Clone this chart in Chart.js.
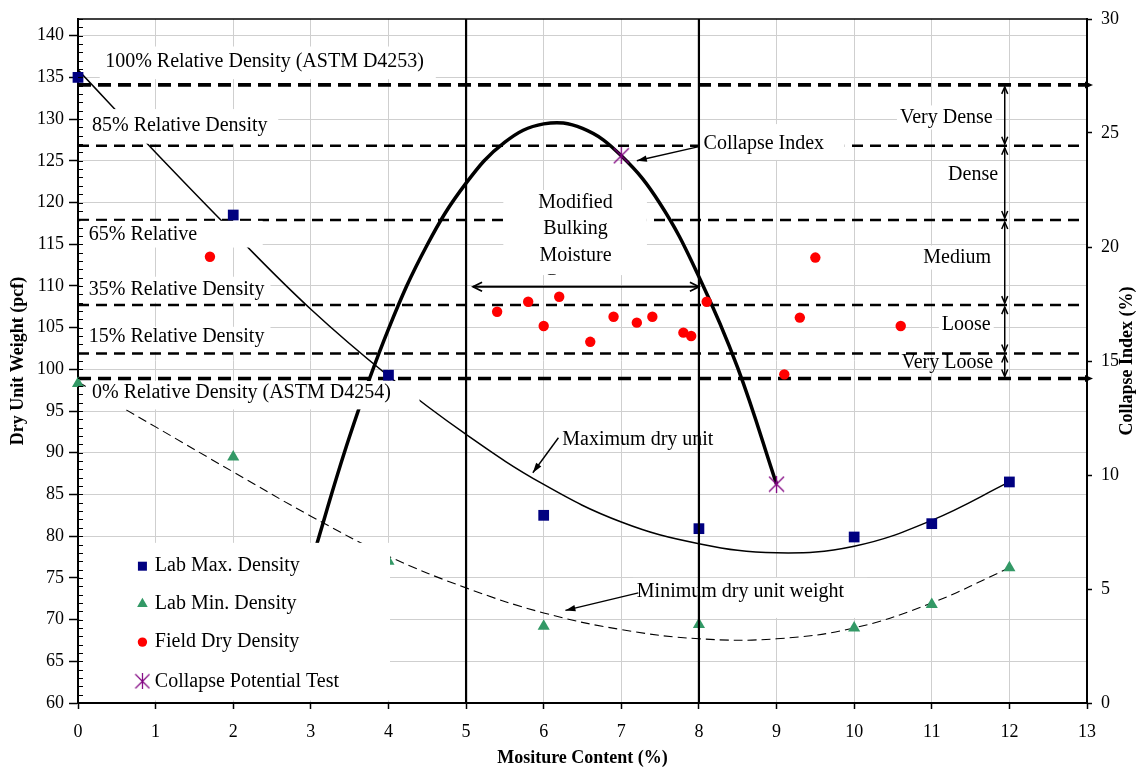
<!DOCTYPE html>
<html>
<head>
<meta charset="utf-8">
<script src="https://cdn.jsdelivr.net/npm/chart.js@4.4.1/dist/chart.umd.min.js"></script>
<style>
  html, body { margin: 0; padding: 0; background: #fff; }
  #wrap { width: 1137px; height: 767px; }
</style>
</head>
<body>
<div id="wrap"><canvas id="chart" width="1137" height="767"></canvas></div>
<script>
// lab compaction tests
const labMoisture = [0, 2, 4, 6, 8, 10, 11, 12];
const labMaxDensity = [135.0, 118.5, 99.3, 82.5, 80.9, 79.9, 81.5, 86.5];
const labMinDensity = [98.3, 89.5, 77.0, 69.2, 69.4, 69.0, 71.8, 76.2];

// field dry density measurements
const fieldMoisture = [1.7, 5.4, 5.8, 6.0, 6.2, 6.6, 6.9, 7.2, 7.4, 7.8, 7.9, 8.1, 9.1, 9.3, 9.5, 10.6];
const fieldDensity = [113.5, 106.9, 108.1, 105.2, 108.7, 103.3, 106.3, 105.6, 106.3, 104.4, 104.0, 108.1, 99.4, 106.2, 113.4, 105.2];

// collapse potential tests (right axis, %)
const collapseMoisture = [7, 9];
const collapseIndex = [24.0, 9.6];

// trend curves
const curveMoisture = [0, 1, 2, 3, 4, 5, 6, 7, 8, 9, 10, 11, 12];
const maxCurve = [135.9, 126.0, 116.4, 107.2, 99.2, 92.2, 86.2, 81.7, 79.1, 78.0, 78.8, 81.9, 86.5];
const minCurve = [98.5, 93.1, 87.7, 82.4, 77.6, 73.8, 70.8, 68.8, 67.7, 67.7, 69.0, 72.0, 76.2];
const collapseCurveMoisture = [3.0, 3.5, 4.0, 4.5, 5.0, 5.5, 6.0, 6.5, 7.0, 7.5, 8.0, 8.5, 9.0];
const collapseCurve = [6.1, 11.7, 16.4, 20.1, 22.8, 24.6, 25.4, 25.2, 24.0, 21.9, 18.7, 14.7, 9.6];

// relative density levels (pcf)
const densityLabels = [
  "100% Relative Density (ASTM D4253)",
  "85% Relative Density",
  "65% Relative",
  "35% Relative Density",
  "15% Relative Density",
  "0% Relative Density (ASTM D4254)",
];
const densityLevels = [134.1, 126.8, 117.9, 107.7, 101.9, 98.9];
const consistencyClasses = ["Very Dense", "Dense", "Medium", "Loose", "Very Loose"];

// modified bulking moisture range
const bulkingLimits = [5, 8];

const xTicks = { min: 0, max: 13, step: 1 };
const yTicks = { min: 60, max: 142, step: 5 };
const y2Ticks = { min: 0, max: 30, step: 5 };

const FONT = "'Liberation Serif', 'Times New Roman', Times, serif";
const INK = "#000";
const GRID = "#cfcfcf";

// text placement in data units: [moisture, dry unit weight]
const noteLayout = [
  { text: densityLabels[0], at: [0.35, 136.9], box: [0.28, 138.7, 4.61, 134.8] },
  { text: densityLabels[1], at: [0.18, 129.2], box: [0.03, 131.2, 2.58, 127.05] },
  { text: densityLabels[2], at: [0.14, 116.1], box: [0.03, 117.8, 2.38, 114.6] },
  { text: densityLabels[3], at: [0.14, 109.5], box: [0.03, 111.1, 2.48, 108.0] },
  { text: densityLabels[4], at: [0.14, 103.9], box: [0.03, 105.1, 2.48, 102.1] },
  { text: densityLabels[5], at: [0.18, 97.2], box: [0.1, 98.6, 4.4, 95.2] },
  { text: "Collapse Index", at: [8.06, 127.1], box: [8.0, 129.4, 9.88, 125.1] },
  { text: "Maximum dry unit", at: [6.24, 91.6] },
  { text: "Minimum dry unit weight", at: [7.2, 73.3], box: [7.15, 75.0, 10.17, 70.2] },
  { text: consistencyClasses[0], at: [10.59, 130.2], pad: true },
  { text: consistencyClasses[1], at: [11.21, 123.3], pad: true },
  { text: consistencyClasses[2], at: [10.89, 113.4], pad: true },
  { text: consistencyClasses[3], at: [11.13, 105.3], pad: true },
  { text: consistencyClasses[4], at: [10.61, 100.8] },
];

const bulkingNote = {
  lines: ["Modified", "Bulking", "Moisture", "Content"],
  center: 6.41, top: 120.0, step: 3.2,
  box: [5.48, 121.5, 7.33, 111.3],
};

const pointers = [
  { from: [8.0, 126.7], to: [7.2, 125.0] },
  { from: [6.19, 91.8], to: [5.86, 87.6] },
  { from: [7.22, 73.2], to: [6.28, 71.1] },
];
const bulkingArrow = { y: 109.9, from: 5.09, to: 8.0 };
const classArrowX = 11.94;

const legendLayout = { box: [0.03, 79.2, 4.02, 60.3], marker: 0.83, text: 0.99, rows: [76.4, 71.9, 67.3, 62.6] };

const pts = (xs, ys) => xs.map((x, i) => ({ x, y: ys[i] }));

function asteriskMarker(size, color) {
  const c = document.createElement("canvas");
  c.width = size;
  c.height = size;
  const g = c.getContext("2d");
  g.strokeStyle = color;
  g.lineWidth = 1.3;
  g.beginPath();
  g.moveTo(1, 1); g.lineTo(size - 1, size - 1);
  g.moveTo(size - 1, 1); g.lineTo(1, size - 1);
  g.moveTo(size / 2, 0); g.lineTo(size / 2, size);
  g.stroke();
  return c;
}
const asterisk = asteriskMarker(17, "#800080");

const datasets = [
  ...bulkingLimits.map((m) => ({
    label: "limit",
    data: [{ x: m, y: yTicks.min }, { x: m, y: yTicks.max }],
    borderColor: INK, borderWidth: 2.2, pointRadius: 0, order: -1, onTop: true,
  })),
  {
    label: "Lab Max. Density", data: pts(labMoisture, labMaxDensity), showLine: false, clip: false,
    pointStyle: "rect", pointRadius: 7.6, backgroundColor: "#000080", borderColor: "#000080", borderWidth: 0,
    order: 0, inLegend: true, marker: "rect",
  },
  {
    label: "Lab Min. Density", data: pts(labMoisture, labMinDensity), showLine: false, clip: false,
    pointStyle: "triangle", pointRadius: 7, backgroundColor: "#339966", borderColor: "#339966", borderWidth: 0,
    order: 0, inLegend: true, marker: "triangle",
  },
  {
    label: "Field Dry Density", data: pts(fieldMoisture, fieldDensity), showLine: false, clip: false,
    pointStyle: "circle", pointRadius: 5.2, backgroundColor: "#ff0000", borderColor: "#ff0000", borderWidth: 0,
    order: 0, inLegend: true, marker: "circle",
  },
  {
    label: "Collapse Potential Test", data: pts(collapseMoisture, collapseIndex), yAxisID: "y2", showLine: false,
    pointStyle: asterisk, pointRadius: 8, order: 0, inLegend: true, marker: "asterisk",
  },
  {
    label: "Maximum dry unit", data: pts(curveMoisture, maxCurve),
    borderColor: INK, borderWidth: 1.5, tension: 0.4, pointRadius: 0, order: 2,
  },
  {
    label: "Minimum dry unit weight", data: pts(curveMoisture, minCurve),
    borderColor: INK, borderWidth: 1.1, borderDash: [9, 5], tension: 0.4, pointRadius: 0, order: 2,
  },
  {
    label: "Collapse Index", data: pts(collapseCurveMoisture, collapseCurve), yAxisID: "y2",
    borderColor: INK, borderWidth: 3.5, tension: 0.4, pointRadius: 0, order: 2,
  },
  ...densityLevels.map((v, i) => {
    const astm = i === 0 || i === densityLevels.length - 1;
    return {
      label: densityLabels[i],
      data: [{ x: xTicks.min, y: v }, { x: xTicks.max, y: v }],
      borderColor: INK, borderWidth: astm ? 3.6 : 2.5, borderDash: astm ? [13, 7] : [11, 7],
      pointRadius: 0, order: 3,
    };
  }),
];

function drawMarker(ctx, kind, x, y) {
  ctx.save();
  if (kind === "rect") {
    ctx.fillStyle = "#000080";
    ctx.fillRect(x - 4.5, y - 4.5, 9, 9);
  } else if (kind === "triangle") {
    ctx.fillStyle = "#339966";
    ctx.beginPath();
    ctx.moveTo(x, y - 6);
    ctx.lineTo(x + 5.3, y + 3.2);
    ctx.lineTo(x - 5.3, y + 3.2);
    ctx.closePath();
    ctx.fill();
  } else if (kind === "circle") {
    ctx.fillStyle = "#ff0000";
    ctx.beginPath();
    ctx.arc(x, y, 4.7, 0, Math.PI * 2);
    ctx.fill();
  } else {
    ctx.drawImage(asterisk, x - 8, y - 8, 16, 16);
  }
  ctx.restore();
}

function arrowHead(ctx, x1, y1, x2, y2, len, half, filled) {
  const a = Math.atan2(y2 - y1, x2 - x1);
  const bx = x2 - len * Math.cos(a);
  const by = y2 - len * Math.sin(a);
  ctx.beginPath();
  ctx.moveTo(bx + half * Math.sin(a), by - half * Math.cos(a));
  ctx.lineTo(x2, y2);
  ctx.lineTo(bx - half * Math.sin(a), by + half * Math.cos(a));
  if (filled) {
    ctx.closePath();
    ctx.fill();
  } else {
    ctx.stroke();
  }
}

function drawNotes(chart) {
  const { ctx } = chart;
  const sx = chart.scales.x;
  const sy = chart.scales.y;
  const X = (v) => sx.getPixelForValue(v);
  const Y = (v) => sy.getPixelForValue(v);
  ctx.save();
  ctx.font = `20px ${FONT}`;
  ctx.textBaseline = "middle";
  ctx.textAlign = "left";

  noteLayout.forEach((n) => {
    const tx = X(n.at[0]);
    const ty = Y(n.at[1]);
    ctx.fillStyle = "#fff";
    if (n.box) {
      const [x1, y1, x2, y2] = n.box;
      ctx.fillRect(X(x1), Y(y1), X(x2) - X(x1), Y(y2) - Y(y1));
    } else if (n.pad) {
      const w = ctx.measureText(n.text).width;
      ctx.fillRect(tx - 3, ty - 12, w + 6, 24);
    }
    ctx.fillStyle = INK;
    ctx.fillText(n.text, tx, ty);
  });

  // bulking moisture text box, last line cut by the box edge
  const b = bulkingNote.box;
  ctx.fillStyle = "#fff";
  ctx.fillRect(X(b[0]), Y(b[1]), X(b[2]) - X(b[0]), Y(b[3]) - Y(b[1]));
  ctx.save();
  ctx.beginPath();
  ctx.rect(X(b[0]), Y(b[1]), X(b[2]) - X(b[0]), Y(b[3]) - Y(b[1]));
  ctx.clip();
  ctx.fillStyle = INK;
  ctx.textAlign = "center";
  bulkingNote.lines.forEach((line, i) => {
    ctx.fillText(line, X(bulkingNote.center), Y(bulkingNote.top - i * bulkingNote.step));
  });
  ctx.restore();

  // legend
  const L = legendLayout;
  ctx.fillStyle = "#fff";
  ctx.fillRect(X(L.box[0]), Y(L.box[1]), X(L.box[2]) - X(L.box[0]), Y(L.box[3]) - Y(L.box[1]));
  ctx.fillStyle = INK;
  ctx.textAlign = "left";
  chart.data.datasets.filter((d) => d.inLegend).forEach((d, i) => {
    const ry = Y(L.rows[i]);
    drawMarker(ctx, d.marker, X(L.marker), ry);
    ctx.fillStyle = INK;
    ctx.fillText(d.label, X(L.text), ry);
  });
  ctx.restore();
}

function drawExtras(chart) {
  const { ctx, chartArea } = chart;
  const sx = chart.scales.x;
  const sy = chart.scales.y;
  const X = (v) => sx.getPixelForValue(v);
  const Y = (v) => sy.getPixelForValue(v);
  ctx.save();
  ctx.strokeStyle = INK;
  ctx.fillStyle = INK;
  ctx.lineCap = "butt";

  // pointer arrows from the curve notes
  ctx.lineWidth = 1.4;
  pointers.forEach((p) => {
    const x1 = X(p.from[0]), y1 = Y(p.from[1]), x2 = X(p.to[0]), y2 = Y(p.to[1]);
    ctx.beginPath();
    ctx.moveTo(x1, y1);
    ctx.lineTo(x2, y2);
    ctx.stroke();
    arrowHead(ctx, x1, y1, x2, y2, 10, 3.2, true);
  });

  // bulking moisture range
  ctx.lineWidth = 1.8;
  const by = Y(bulkingArrow.y);
  const bx1 = X(bulkingArrow.from), bx2 = X(bulkingArrow.to);
  ctx.beginPath();
  ctx.moveTo(bx1, by);
  ctx.lineTo(bx2, by);
  ctx.stroke();
  arrowHead(ctx, bx2, by, bx1, by, 9, 4.5, false);
  arrowHead(ctx, bx1, by, bx2, by, 9, 4.5, false);

  // consistency class spans between the density levels
  ctx.lineWidth = 1.5;
  const cx = X(classArrowX);
  for (let i = 0; i < densityLevels.length - 1; i++) {
    const ya = Y(densityLevels[i]) + 2;
    const yb = Y(densityLevels[i + 1]) - 2;
    ctx.beginPath();
    ctx.moveTo(cx, ya);
    ctx.lineTo(cx, yb);
    ctx.stroke();
    arrowHead(ctx, cx, yb, cx, ya, 7, 3, false);
    arrowHead(ctx, cx, ya, cx, yb, 7, 3, false);
  }

  // arrow tips where the ASTM limits meet the right axis
  [densityLevels[0], densityLevels[densityLevels.length - 1]].forEach((v) => {
    const y = Y(v);
    ctx.beginPath();
    ctx.moveTo(chartArea.right - 2, y - 3.5);
    ctx.lineTo(chartArea.right + 6, y);
    ctx.lineTo(chartArea.right - 2, y + 3.5);
    ctx.closePath();
    ctx.fill();
  });

  // minor ticks on the dry unit weight axis
  ctx.lineWidth = 1;
  for (let v = yTicks.min; v <= yTicks.max; v++) {
    const y = Math.round(Y(v)) + 0.5;
    ctx.beginPath();
    ctx.moveTo(chartArea.left, y);
    ctx.lineTo(chartArea.left + 5, y);
    ctx.stroke();
  }

  // top frame
  ctx.lineWidth = 1.6;
  ctx.beginPath();
  ctx.moveTo(chartArea.left, chartArea.top);
  ctx.lineTo(chartArea.right, chartArea.top);
  ctx.stroke();

  // right axis title, reading bottom to top
  ctx.font = `bold 18px ${FONT}`;
  ctx.textAlign = "center";
  ctx.textBaseline = "middle";
  ctx.translate(1127, (chartArea.top + chartArea.bottom) / 2);
  ctx.rotate(-Math.PI / 2);
  ctx.fillText("Collapse Index (%)", 0, 0);
  ctx.restore();
}

let notesDrawn = false;
const overlayPlugin = {
  id: "overlay",
  beforeDatasetsDraw() {
    notesDrawn = false;
  },
  beforeDatasetDraw(chart, args) {
    if (!notesDrawn && chart.data.datasets[args.index].onTop) {
      drawNotes(chart);
      notesDrawn = true;
    }
  },
  afterDatasetsDraw(chart) {
    if (!notesDrawn) drawNotes(chart);
    drawExtras(chart);
  },
};

const tickFont = { family: FONT, size: 18 };
const titleFont = { family: FONT, size: 18, weight: "bold", lineHeight: 1 };

new Chart(document.getElementById("chart"), {
  type: "line",
  data: { datasets },
  options: {
    responsive: false,
    animation: false,
    events: [],
    layout: { padding: { top: 19, left: 0, right: 0, bottom: 0 } },
    plugins: { legend: { display: false }, tooltip: { enabled: false } },
    scales: {
      x: {
        type: "linear", position: "bottom", min: xTicks.min, max: xTicks.max,
        ticks: { stepSize: xTicks.step, font: tickFont, color: INK, padding: 12, maxRotation: 0 },
        grid: { color: GRID, lineWidth: 1, tickColor: INK, tickLength: 6, tickWidth: 1.5 },
        border: { color: INK, width: 2 },
        title: { display: true, text: "Mositure Content (%)", font: titleFont, color: INK, padding: { top: 0, bottom: 0 } },
        afterFit(s) { s.height = 64; s.paddingLeft = 0; s.paddingRight = 0; },
      },
      y: {
        type: "linear", position: "left", min: yTicks.min, max: yTicks.max,
        ticks: { stepSize: yTicks.step, includeBounds: false, font: tickFont, color: INK, padding: 5 },
        grid: { color: GRID, lineWidth: 1, tickColor: INK, tickLength: 9, tickWidth: 1.5 },
        border: { color: INK, width: 2 },
        title: { display: true, text: "Dry Unit Weight (pcf)", font: titleFont, color: INK, padding: { top: 9, bottom: 0 } },
        afterFit(s) { s.width = 78; s.paddingTop = 0; s.paddingBottom = 0; },
      },
      y2: {
        type: "linear", position: "right", min: y2Ticks.min, max: y2Ticks.max,
        ticks: { stepSize: y2Ticks.step, font: tickFont, color: INK, padding: 9 },
        grid: { drawOnChartArea: false, tickColor: INK, tickLength: 5, tickWidth: 1.5 },
        border: { color: INK, width: 2 },
        afterFit(s) { s.width = 50; s.paddingTop = 0; s.paddingBottom = 0; },
      },
    },
  },
  plugins: [overlayPlugin],
});
</script>
</body>
</html>
